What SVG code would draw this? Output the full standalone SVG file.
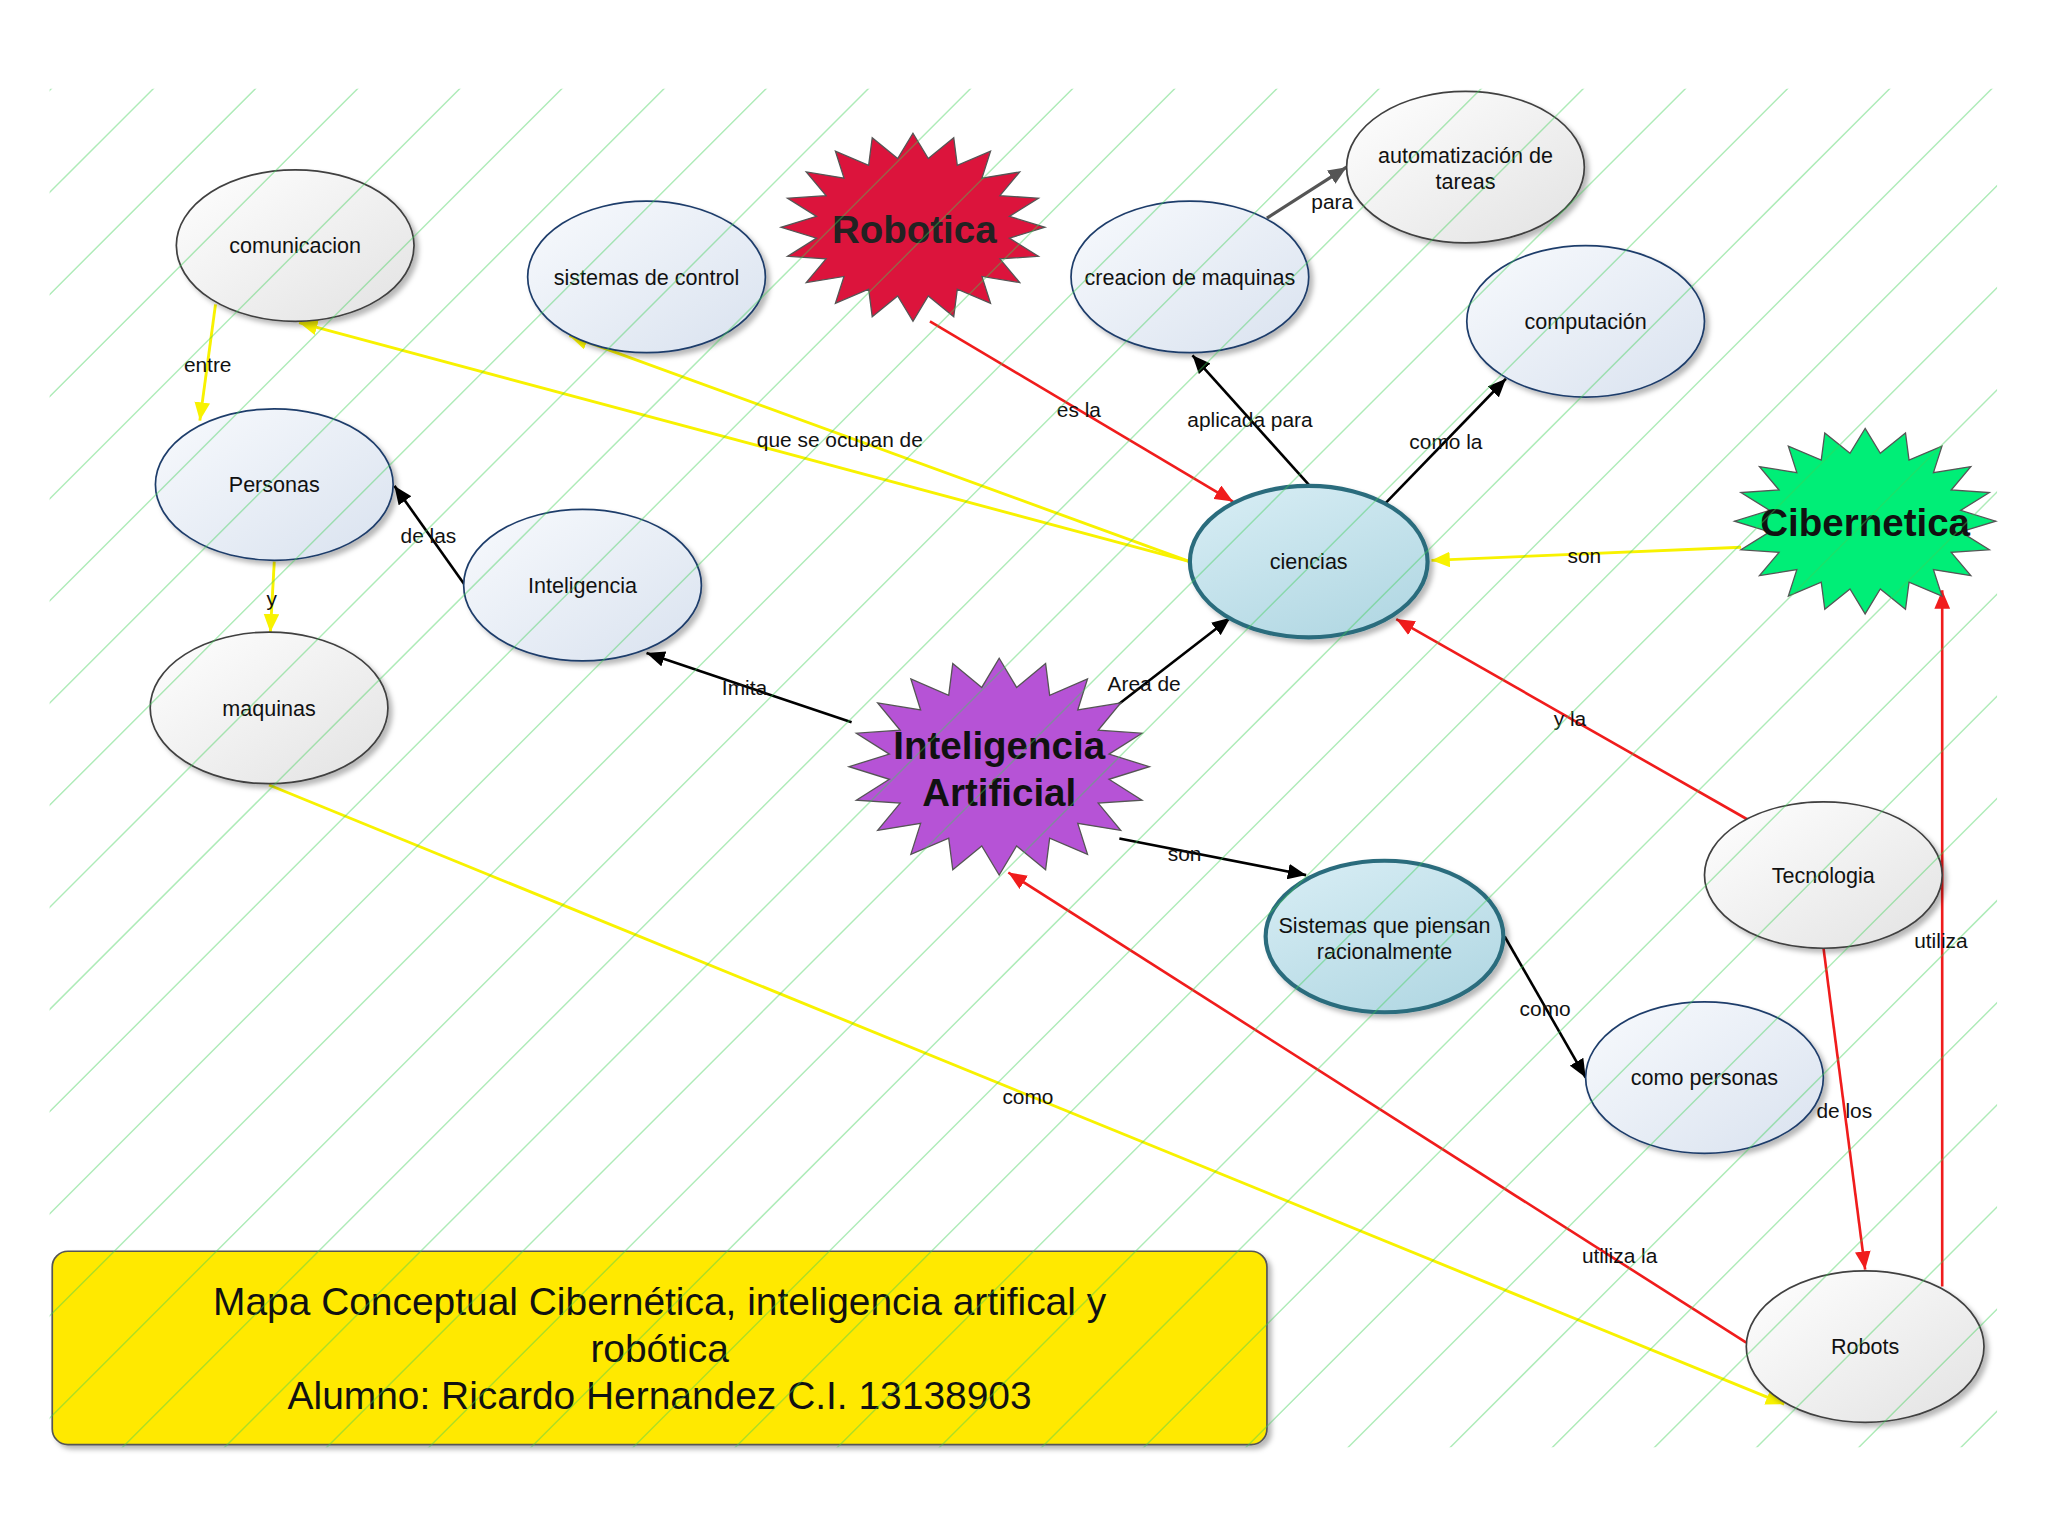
<svg xmlns="http://www.w3.org/2000/svg" xmlns:xlink="http://www.w3.org/1999/xlink" width="2048" height="1536" viewBox="0 0 2048 1536">
<style>
text{font-family:"Liberation Sans",Arial,sans-serif;fill:#111;text-anchor:middle}
.nt{font-size:16.5px}
.lb{font-size:16px}
.st{font-size:29.5px;font-weight:bold}
.tt{font-size:29.8px}
.ln{fill:none;stroke-width:2}
.y{stroke:#f8f200;stroke-width:2.2;marker-end:url(#ay)}
.k{stroke:#000;marker-end:url(#ak)}
.r{stroke:#f01c1c;marker-end:url(#ar)}
.g{stroke:#555;stroke-width:2.5;marker-end:url(#ag)}
.eg{fill:url(#gg);stroke:#404040;stroke-width:1.3;filter:url(#sh)}
.eb{fill:url(#gb);stroke:#1f3d6b;stroke-width:1.3;filter:url(#sh)}
.et{fill:url(#gt);stroke:#2c6c7d;stroke-width:3.2;filter:url(#sh)}
.star{stroke:#555;stroke-width:1.3}
</style>
<defs>
<linearGradient id="gg" x1="0" y1="0" x2="1" y2="1"><stop offset="0" stop-color="#ffffff"/><stop offset="1" stop-color="#e2e2e2"/></linearGradient>
<linearGradient id="gb" x1="0" y1="0" x2="1" y2="1"><stop offset="0" stop-color="#f8fafd"/><stop offset="1" stop-color="#d9e2ef"/></linearGradient>
<linearGradient id="gt" x1="0" y1="0" x2="0.6" y2="1"><stop offset="0" stop-color="#d9eef5"/><stop offset="1" stop-color="#b4d9e4"/></linearGradient>
<filter id="sh" x="-10%" y="-10%" width="125%" height="130%"><feDropShadow dx="3" dy="3" stdDeviation="2.2" flood-color="#000" flood-opacity="0.28"/></filter>
<marker id="ay" markerUnits="userSpaceOnUse" markerWidth="14" markerHeight="12" refX="14" refY="6" orient="auto"><path d="M0,0L14,6L0,12z" fill="#f8f200"/></marker>
<marker id="ak" markerUnits="userSpaceOnUse" markerWidth="14" markerHeight="12" refX="14" refY="6" orient="auto"><path d="M0,0L14,6L0,12z" fill="#000"/></marker>
<marker id="ar" markerUnits="userSpaceOnUse" markerWidth="14" markerHeight="12" refX="14" refY="6" orient="auto"><path d="M0,0L14,6L0,12z" fill="#f01c1c"/></marker>
<marker id="ag" markerUnits="userSpaceOnUse" markerWidth="14" markerHeight="12" refX="14" refY="6" orient="auto"><path d="M0,0L14,6L0,12z" fill="#555"/></marker>
<polygon id="burst" vector-effect="non-scaling-stroke" points="0,-100 11.6,-73.1 30.9,-95.1 33.6,-65.9 58.8,-80.9 52.3,-52.3 80.9,-58.8 65.9,-33.6 95.1,-30.9 73.1,-11.6 100,0 73.1,11.6 95.1,30.9 65.9,33.6 80.9,58.8 52.3,52.3 58.8,80.9 33.6,65.9 30.9,95.1 11.6,73.1 0,100 -11.6,73.1 -30.9,95.1 -33.6,65.9 -58.8,80.9 -52.3,52.3 -80.9,58.8 -65.9,33.6 -95.1,30.9 -73.1,11.6 -100,0 -73.1,-11.6 -95.1,-30.9 -65.9,-33.6 -80.9,-58.8 -52.3,-52.3 -58.8,-80.9 -33.6,-65.9 -30.9,-95.1 -11.6,-73.1"/>
<clipPath id="hc"><rect x="38" y="68" width="1491" height="1040"/></clipPath>
</defs>
<rect width="2048" height="1536" fill="#fff"/>
<g transform="scale(1.306122)">
<g id="connectors">
<path class="ln y" d="M165,233L153,322"/>
<path class="ln y" d="M911,430L229,247"/>
<path class="ln y" d="M911,430L436,257"/>
<path class="ln y" d="M210,430L207,484"/>
<path class="ln y" d="M206,601L1366,1075"/>
<path class="ln y" d="M1333,419L1096,429"/>
<path class="ln k" d="M356,448L302,372"/>
<path class="ln k" d="M652,553L495,500"/>
<path class="ln k" d="M845,548L942,473"/>
<path class="ln k" d="M857,642L1000,670"/>
<path class="ln k" d="M1002,371L913,272"/>
<path class="ln k" d="M1061,385L1153,290"/>
<path class="ln k" d="M1152,717L1214,825"/>
<path class="ln g" d="M970,167L1031,128"/>
<path class="ln r" d="M712,246L944,384"/>
<path class="ln r" d="M1339,628L1069,474"/>
<path class="ln r" d="M1396,725L1428,972"/>
<path class="ln r" d="M1487,985L1487,452"/>
<path class="ln r" d="M1337,1028L772,668"/>
<text class="lb" x="159" y="285">entre</text>
<text class="lb" x="643" y="342">que se ocupan de</text>
<text class="lb" x="208" y="464">y</text>
<text class="lb" x="787" y="845">como</text>
<text class="lb" x="328" y="416">de las</text>
<text class="lb" x="570" y="532">Imita</text>
<text class="lb" x="876" y="529">Area de</text>
<text class="lb" x="907" y="659">son</text>
<text class="lb" x="957" y="327">aplicada para</text>
<text class="lb" x="1107" y="344">como la</text>
<text class="lb" x="1020" y="160">para</text>
<text class="lb" x="826" y="319">es la</text>
<text class="lb" x="1213" y="431">son</text>
<text class="lb" x="1202" y="556">y la</text>
<text class="lb" x="1412" y="856">de los</text>
<text class="lb" x="1486" y="726">utiliza</text>
<text class="lb" x="1240" y="967">utiliza la</text>
<text class="lb" x="1183" y="778">como</text>
</g>
<g id="node-comunicacion"><ellipse class="eg" cx="226" cy="188" rx="91" ry="58"/><text class="nt" x="226" y="194">comunicacion</text></g>
<g id="node-sistemas-control"><ellipse class="eb" cx="495" cy="212" rx="91" ry="58"/><text class="nt" x="495" y="218">sistemas de control</text></g>
<g id="node-robotica"><use xlink:href="#burst" class="star" fill="#dc143c" transform="translate(699,174) scale(1.01,0.72)"/><text class="st" x="700" y="186" style="fill:#222">Robotica</text></g>
<g id="node-creacion"><ellipse class="eb" cx="911" cy="212" rx="91" ry="58"/><text class="nt" x="911" y="218">creacion de maquinas</text></g>
<g id="node-automatizacion"><ellipse class="eg" cx="1122" cy="128" rx="91" ry="58"/><text class="nt" x="1122" y="125">automatización de</text><text class="nt" x="1122" y="145">tareas</text></g>
<g id="node-computacion"><ellipse class="eb" cx="1214" cy="246" rx="91" ry="58"/><text class="nt" x="1214" y="252">computación</text></g>
<g id="node-personas"><ellipse class="eb" cx="210" cy="371" rx="91" ry="58"/><text class="nt" x="210" y="377">Personas</text></g>
<g id="node-inteligencia"><ellipse class="eb" cx="446" cy="448" rx="91" ry="58"/><text class="nt" x="446" y="454">Inteligencia</text></g>
<g id="node-ciencias"><ellipse class="et" cx="1002" cy="430" rx="91" ry="58"/><text class="nt" x="1002" y="436">ciencias</text></g>
<g id="node-cibernetica"><use xlink:href="#burst" class="star" fill="#00ee77" transform="translate(1428,399) scale(1.0,0.71)"/><text class="st" x="1428" y="410">Cibernetica</text></g>
<g id="node-maquinas"><ellipse class="eg" cx="206" cy="542" rx="91" ry="58"/><text class="nt" x="206" y="548">maquinas</text></g>
<g id="node-ia"><use xlink:href="#burst" class="star" fill="#b653d6" transform="translate(765,587) scale(1.15,0.83)"/><text class="st" x="765" y="581">Inteligencia</text><text class="st" x="765" y="617">Artificial</text></g>
<g id="node-sistemas-piensan"><ellipse class="et" cx="1060" cy="717" rx="91" ry="58"/><text class="nt" x="1060" y="714">Sistemas que piensan</text><text class="nt" x="1060" y="734">racionalmente</text></g>
<g id="node-tecnologia"><ellipse class="eg" cx="1396" cy="670" rx="91" ry="56"/><text class="nt" x="1396" y="676">Tecnologia</text></g>
<g id="node-como-personas"><ellipse class="eb" cx="1305" cy="825" rx="91" ry="58"/><text class="nt" x="1305" y="831">como personas</text></g>
<g id="node-robots"><ellipse class="eg" cx="1428" cy="1031" rx="91" ry="58"/><text class="nt" x="1428" y="1037">Robots</text></g>
<g id="node-titulo"><rect x="40" y="958" width="930" height="148" rx="12" fill="#ffe900" stroke="#555" stroke-width="1.3" filter="url(#sh)"/><text class="tt" x="505" y="1007">Mapa Conceptual Cibernética, inteligencia artifical y</text><text class="tt" x="505" y="1043">robótica</text><text class="tt" x="505" y="1079">Alumno: Ricardo Hernandez C.I. 13138903</text></g>
<g id="hatch" clip-path="url(#hc)" fill="none" stroke="#3fcf55" stroke-opacity="0.42" stroke-width="1.1">
<path d="M-1092.9,1200L107.1,0M-1014.7,1200L185.3,0M-936.5,1200L263.5,0M-858.3,1200L341.7,0M-780.1,1200L419.9,0M-701.9,1200L498.1,0M-623.7,1200L576.3,0M-545.5,1200L654.5,0M-467.3,1200L732.7,0M-389.1,1200L810.9,0M-310.9,1200L889.1,0M-232.7,1200L967.3,0M-154.5,1200L1045.5,0M-76.3,1200L1123.7,0M1.9,1200L1201.9,0M80.1,1200L1280.1,0M158.3,1200L1358.3,0M236.5,1200L1436.5,0M314.7,1200L1514.7,0M392.9,1200L1592.9,0M471.1,1200L1671.1,0M549.3,1200L1749.3,0M627.5,1200L1827.5,0M705.7,1200L1905.7,0M783.9,1200L1983.9,0M862.1,1200L2062.1,0M940.3,1200L2140.3,0M1018.5,1200L2218.5,0M1096.7,1200L2296.7,0M1174.9,1200L2374.9,0M1253.1,1200L2453.1,0M1331.3,1200L2531.3,0M1409.5,1200L2609.5,0M1487.7,1200L2687.7,0"/>
</g>
</g>
</svg>
